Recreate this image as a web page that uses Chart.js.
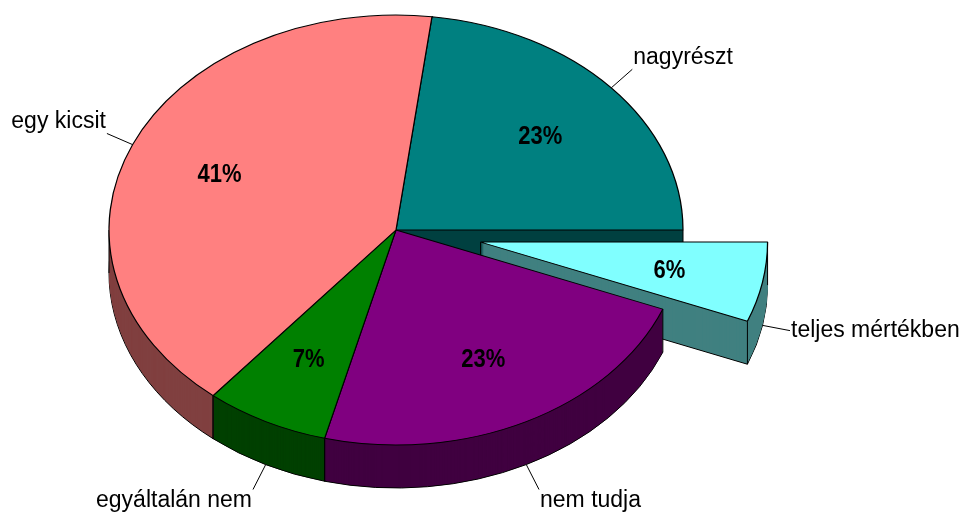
<!DOCTYPE html>
<html>
<head>
<meta charset="utf-8">
<script src="https://cdn.jsdelivr.net/npm/chart.js@4"></script>
<style>
  body { margin: 0; background: #fff; }
  #wrap { width: 963px; height: 520px; }
</style>
</head>
<body>
<div id="wrap"><canvas id="graph" width="963" height="520"></canvas></div>
<script>
const labels = ['nagyrészt', 'teljes mértékben', 'nem tudja', 'egyáltalán nem', 'egy kicsit'];
const values = [23, 6, 23, 7, 41];

const topColors = ['#008080', '#80FFFF', '#800080', '#008000', '#FF8080'];
const sideColors = ['#004040', '#408080', '#400040', '#004000', '#804040'];
const explode = [0, 0.3, 0, 0, 0];   // fraction of radius

const RX = 287, RY = 215, DEPTH = 43;
const FONT = "'Liberation Sans', Arial, sans-serif";

function midAngle(arc) { return (arc.startAngle + arc.endAngle) / 2; }
function shift(arc, i) {
    const m = midAngle(arc);
    return [explode[i] * Math.cos(m), explode[i] * Math.sin(m)];
}
// point on slice i at angle a, f = fraction of radius, in screen pixels
function toScreen(arc, i, a, f) {
    const [ex, ey] = shift(arc, i);
    return [arc.x + (f * Math.cos(a) + ex) * RX, arc.y + (f * Math.sin(a) + ey) * RY];
}

const pie3d = {
    id: 'pie3d',
    afterUpdate(chart) {
        chart.getDatasetMeta(0).data.forEach((arc, i) => {
            if (!explode[i] || arc._exploded) return;
            const draw = arc.draw;
            arc.draw = function (ctx, area) {
                const [ex, ey] = shift(this, i);
                ctx.save();
                ctx.translate(ex * this.outerRadius, ey * this.outerRadius);
                draw.call(this, ctx, area);
                ctx.restore();
            };
            arc._exploded = true;
        });
    },
    beforeDatasetsDraw(chart) {
        const ctx = chart.ctx;
        const arcs = chart.getDatasetMeta(0).data;
        // side walls, stacked from the bottom up
        for (let d = DEPTH; d >= 1; d--) {
            arcs.forEach((arc, i) => {
                const [ex, ey] = shift(arc, i);
                ctx.save();
                ctx.translate(arc.x, arc.y + d);
                ctx.scale(RX, RY);
                ctx.beginPath();
                ctx.moveTo(ex, ey);
                ctx.arc(ex, ey, 1, arc.startAngle, arc.endAngle);
                ctx.closePath();
                ctx.restore();
                ctx.fillStyle = sideColors[i];
                ctx.fill();
                if (d === DEPTH) {
                    ctx.strokeStyle = '#000';
                    ctx.lineWidth = 1;
                    ctx.stroke();
                }
            });
        }
        // vertical edges
        ctx.strokeStyle = '#000';
        ctx.lineWidth = 1;
        arcs.forEach((arc, i) => {
            const pts = [toScreen(arc, i, 0, 0)];
            [arc.startAngle, arc.endAngle].forEach(a => pts.push(toScreen(arc, i, a, 1)));
            [-Math.PI, 0, Math.PI, 2 * Math.PI, 3 * Math.PI].forEach(t => {
                if (t > arc.startAngle && t < arc.endAngle) pts.push(toScreen(arc, i, t, 1));
            });
            pts.forEach(([x, y]) => {
                ctx.beginPath();
                ctx.moveTo(x, y);
                ctx.lineTo(x, y + DEPTH);
                ctx.stroke();
            });
        });
        // top faces: Chart.js draws a round pie, squash it to an ellipse
        const a0 = arcs[0];
        ctx.save();
        ctx.translate(a0.x, a0.y);
        ctx.scale(RX / a0.outerRadius, RY / a0.outerRadius);
        ctx.translate(-a0.x, -a0.y);
    },
    afterDatasetsDraw(chart) {
        const ctx = chart.ctx;
        ctx.restore();
        const arcs = chart.getDatasetMeta(0).data;
        const total = values.reduce((a, b) => a + b, 0);
        arcs.forEach((arc, i) => {
            const m = midAngle(arc);
            const c = Math.cos(m), s = Math.sin(m);

            // percentage
            const [px, py] = toScreen(arc, i, m, 0.67);
            ctx.save();
            ctx.font = 'bold 22px ' + FONT;
            ctx.fillStyle = '#000';
            ctx.textAlign = 'center';
            ctx.textBaseline = 'alphabetic';
            ctx.translate(px, py + 9);
            ctx.scale(1, 1.15);
            ctx.fillText(Math.round(values[i] / total * 100) + '%', 0, 0);
            ctx.restore();

            // category label with leader line
            let [ax, ay] = toScreen(arc, i, m, 1);
            if (s > 0) ay += DEPTH;
            const bx = ax + c * 28, by = ay + s * 28;
            ctx.save();
            ctx.strokeStyle = '#000';
            ctx.lineWidth = 1;
            ctx.beginPath();
            ctx.moveTo(ax, ay);
            ctx.lineTo(bx, by);
            ctx.stroke();
            ctx.font = '23px ' + FONT;
            ctx.fillStyle = '#000';
            ctx.textAlign = c >= 0 ? 'left' : 'right';
            ctx.textBaseline = Math.abs(s) < 0.3 ? 'middle' : (s < 0 ? 'bottom' : 'top');
            ctx.fillText(labels[i], bx + (c >= 0 ? 1 : -1), by);
            ctx.restore();
        });
    }
};

const canva = document.getElementById('graph');

const data = {
    labels: labels,
    datasets: [{
        data: values,
        backgroundColor: topColors,
        borderColor: '#000',
        borderWidth: 1,
        clip: false
    }]
};

const config = {
    type: 'pie',
    data,
    options: {
        responsive: false,
        animation: false,
        devicePixelRatio: 1,
        events: [],
        rotation: 7.2,
        layout: { padding: { left: 0, right: 171, top: 0, bottom: 60 } },
        plugins: {
            legend: { display: false },
            tooltip: { enabled: false }
        }
    },
    plugins: [pie3d]
};

var chart = new Chart(canva, config);
</script>
</body>
</html>
